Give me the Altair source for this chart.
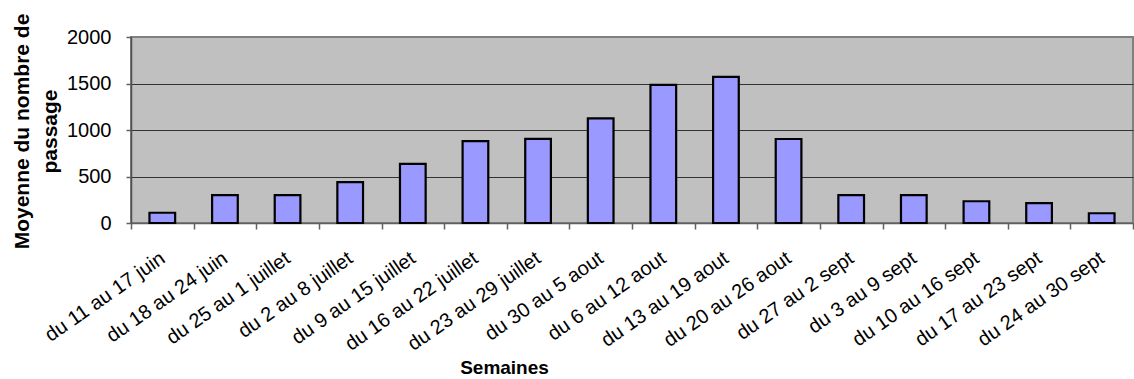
import altair as alt
import pandas as pd

weeks = ["du 11 au 17 juin", "du 18 au 24 juin", "du 25 au 1 juillet", "du 2 au 8 juillet",
         "du 9 au 15 juillet", "du 16 au 22 juillet", "du 23 au 29 juillet", "du 30 au 5 aout",
         "du 6 au 12 aout", "du 13 au 19 aout", "du 20 au 26 aout", "du 27 au 2 sept",
         "du 3 au 9 sept", "du 10 au 16 sept", "du 17 au 23 sept", "du 24 au 30 sept"]
moyenne = [110, 300, 300, 440, 635, 880, 905, 1126, 1486, 1572, 903, 300, 300, 234, 213, 105]
y_ticks = [0, 500, 1000, 1500, 2000]

df = pd.DataFrame({"Semaine": weeks, "Moyenne": moyenne})

FONT = "Liberation Sans"

bars = alt.Chart(df).mark_bar(
    fill="#9999ff", stroke="#000000", strokeWidth=2.2,
    width=alt.RelativeBandSize(0.41),
).encode(
    x=alt.X(
        "Semaine:N", sort=weeks,
        scale=alt.Scale(paddingInner=0, paddingOuter=0),
        axis=alt.Axis(
            title="Semaines",
            labelAngle=-35, labelAlign="right", labelBaseline="middle",
            labelFontSize=20, labelFont=FONT, labelColor="#000000", labelPadding=27,
            labelOverlap=False, labelLimit=0,
            tickBand="extent", tickSize=6, tickColor="#606060", tickWidth=1.5,
            domainColor="#606060", domainWidth=1.5,
            titleFont=FONT, titleFontSize=19, titleFontWeight="bold", titleColor="#000000",
            titleX=373, titleY=150, titleAlign="center", titleBaseline="alphabetic",
        ),
    ),
    y=alt.Y(
        "Moyenne:Q",
        scale=alt.Scale(domain=[0, 2000], nice=False),
        axis=alt.Axis(
            values=y_ticks, format="d",
            title=["Moyenne du nombre de", "passage"],
            grid=True,
            gridColor=alt.condition("datum.value === 2000", alt.value("#808080"), alt.value("#333333")),
            gridWidth=1.2,
            labelFontSize=20, labelFont=FONT, labelColor="#000000", labelPadding=15,
            tickSize=5, tickColor="#606060", tickWidth=1.5,
            domainColor="#505050", domainWidth=1.5,
            titleFont=FONT, titleFontSize=21, titleFontWeight="bold", titleColor="#000000",
            titleAngle=270, titleX=-103, titleY=94, titleAlign="center",
            titleBaseline="alphabetic", titleLineHeight=28,
        ),
    ),
)

chart = bars.properties(
    width=1002, height=186,
    autosize=alt.AutoSizeParams(type="none"),
    padding={"left": 131, "top": 37, "right": 1, "bottom": 156},
    background="#ffffff",
).configure_view(
    fill="#c0c0c0", stroke="#808080", strokeWidth=2,
)

chart.save("out.html", embed_options={"renderer": "svg", "actions": False})
